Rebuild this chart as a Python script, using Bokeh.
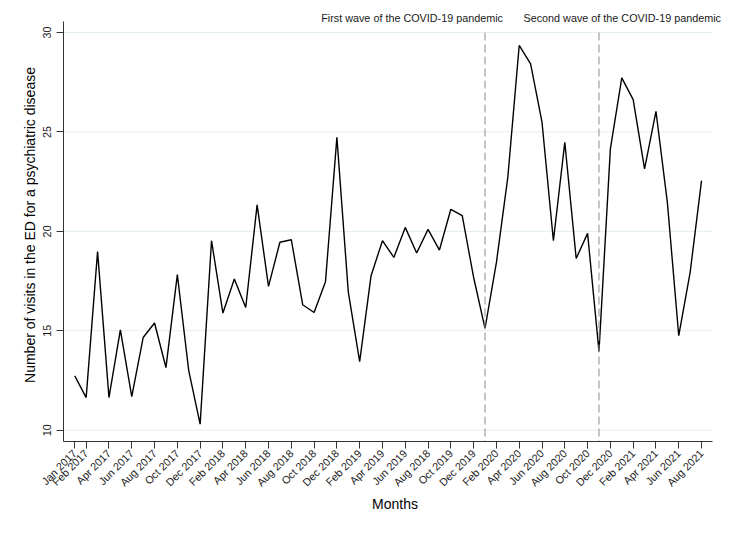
import math
from bokeh.plotting import figure
from bokeh.models import Range1d, FixedTicker, Label
from bokeh.embed import file_html
from bokeh.resources import INLINE

# ---- data ----
months = [
    "Jan 2017", "Feb 2017", "Mar 2017", "Apr 2017", "May 2017", "Jun 2017",
    "Jul 2017", "Aug 2017", "Sep 2017", "Oct 2017", "Nov 2017", "Dec 2017",
    "Jan 2018", "Feb 2018", "Mar 2018", "Apr 2018", "May 2018", "Jun 2018",
    "Jul 2018", "Aug 2018", "Sep 2018", "Oct 2018", "Nov 2018", "Dec 2018",
    "Jan 2019", "Feb 2019", "Mar 2019", "Apr 2019", "May 2019", "Jun 2019",
    "Jul 2019", "Aug 2019", "Sep 2019", "Oct 2019", "Nov 2019", "Dec 2019",
    "Jan 2020", "Feb 2020", "Mar 2020", "Apr 2020", "May 2020", "Jun 2020",
    "Jul 2020", "Aug 2020", "Sep 2020", "Oct 2020", "Nov 2020", "Dec 2020",
    "Jan 2021", "Feb 2021", "Mar 2021", "Apr 2021", "May 2021", "Jun 2021",
    "Jul 2021", "Aug 2021",
]
visits = [
    12.73, 11.64, 18.99, 11.64, 15.05, 11.69, 14.66, 15.39, 13.15, 17.82, 12.99, 10.30,
    19.53, 15.89, 17.60, 16.17, 21.33, 17.23, 19.45, 19.58, 16.31, 15.92, 17.47, 24.73,
    16.96, 13.45, 17.77, 19.53, 18.69, 20.20, 18.91, 20.10, 19.06, 21.11, 20.79, 17.68,
    15.12, 18.44, 22.72, 29.35, 28.43, 25.49, 19.53, 24.48, 18.64, 19.90, 13.96, 24.15,
    27.72, 26.63, 23.14, 26.04, 21.46, 14.75, 17.94, 22.55,
]
tick_months = [
    "Jan 2017", "Feb 2017", "Apr 2017", "Jun 2017", "Aug 2017", "Oct 2017", "Dec 2017",
    "Feb 2018", "Apr 2018", "Jun 2018", "Aug 2018", "Oct 2018", "Dec 2018",
    "Feb 2019", "Apr 2019", "Jun 2019", "Aug 2019", "Oct 2019", "Dec 2019",
    "Feb 2020", "Apr 2020", "Jun 2020", "Aug 2020", "Oct 2020", "Dec 2020",
    "Feb 2021", "Apr 2021", "Jun 2021", "Aug 2021",
]
tick_labels = [
    "Jan 2017", "Feb 2017", "Apr 2017", "Jun 2017", "Aug 2017", "Oct 2017", "Dec 2017",
    "Feb 2018", "Apr 2018", "Jun 2018", "Aug 2018", "Oct 2018", "Dec 2018",
    "Feb 2019", "Apr 2019", "Jun 2019", "Aug 2018", "Oct 2019", "Dec 2019",
    "Feb 2020", "Apr 2020", "Jun 2020", "Aug 2020", "Oct 2020", "Dec 2020",
    "Feb 2021", "Apr 2021", "Jun 2021", "Aug 2021",
]
y_ticks = [10, 15, 20, 25, 30]
wave_months = ["Jan 2020", "Nov 2020"]
wave_texts = ["First wave of the COVID-19 pandemic", "Second wave of the COVID-19 pandemic"]

FONT = "Liberation Sans"
Y_LO, Y_AXIS_HI, Y_TOP = 9.43, 30.56, 31.21
X_LO, X_AXIS_HI, X_TOP = -0.99, 55.97, 57.19

x = list(range(len(months)))
tick_pos = [months.index(m) for m in tick_months]

p = figure(
    width=733, height=534,
    output_backend="svg", toolbar_location=None,
    x_range=Range1d(X_LO, X_TOP), y_range=Range1d(Y_LO, Y_TOP),
    min_border_left=63, min_border_right=7, min_border_top=8, min_border_bottom=93,
)
p.background_fill_color = "white"
p.border_fill_color = "white"
p.outline_line_color = None
p.styles = {"outline": "2px solid #e6eff1", "outline-offset": "-3px"}

# horizontal grid lines at the y ticks, limited to the axis extent
p.segment(x0=[X_LO] * len(y_ticks), x1=[X_AXIS_HI] * len(y_ticks),
          y0=y_ticks, y1=y_ticks, line_color="#e3eef1", line_width=1)

p.line(x, visits, line_color="black", line_width=1.4)

wave_x = [months.index(m) for m in wave_months]
p.segment(x0=wave_x, x1=wave_x, y0=[30.0] * len(wave_x), y1=[Y_LO] * len(wave_x),
          line_color="#8c8c8c", line_width=1, line_dash="8 4")

text_x = [29.6, 48.04]
for tx, t in zip(text_x, wave_texts):
    p.add_layout(Label(x=tx, y=30.71, text=t, text_align="center",
                       text_baseline="middle", text_font=FONT,
                       text_font_size="10.8px", text_color="#1a1a1a"))

# x axis
xa = p.xaxis[0]
xa.ticker = FixedTicker(ticks=tick_pos)
xa.bounds = (X_LO, X_AXIS_HI)
xa.major_label_overrides = {pos: lab for pos, lab in zip(tick_pos, tick_labels)}
xa.major_label_orientation = math.pi / 4
xa.major_label_text_font = FONT
xa.major_label_text_font_size = "10.8px"
xa.major_label_text_color = "#1a1a1a"
xa.major_tick_out = 7
xa.major_tick_in = 0
xa.minor_tick_out = 0
xa.minor_tick_in = 0
xa.axis_line_color = "#333333"
xa.major_tick_line_color = "#333333"
xa.axis_label = "Months"
xa.axis_label_text_font = FONT
xa.axis_label_text_font_size = "14px"
xa.axis_label_text_font_style = "normal"
xa.axis_label_text_color = "black"
xa.axis_label_standoff = 0
xa.major_label_standoff = 3

# y axis
ya = p.yaxis[0]
ya.ticker = FixedTicker(ticks=y_ticks)
ya.bounds = (Y_LO, Y_AXIS_HI)
ya.major_label_orientation = "vertical"
ya.major_label_text_font = FONT
ya.major_label_text_font_size = "10.8px"
ya.major_label_text_color = "#1a1a1a"
ya.major_tick_out = 7
ya.major_tick_in = 0
ya.minor_tick_out = 0
ya.minor_tick_in = 0
ya.axis_line_color = "#333333"
ya.major_tick_line_color = "#333333"
ya.axis_label = "Number of visits in the ED for a psychiatric disease"
ya.axis_label_text_font = FONT
ya.axis_label_text_font_size = "14px"
ya.axis_label_text_font_style = "normal"
ya.axis_label_text_color = "black"
ya.axis_label_standoff = 3
ya.major_label_standoff = 5

p.xgrid.visible = False
p.ygrid.visible = False

open("out.html", "w").write(file_html(p, INLINE))
